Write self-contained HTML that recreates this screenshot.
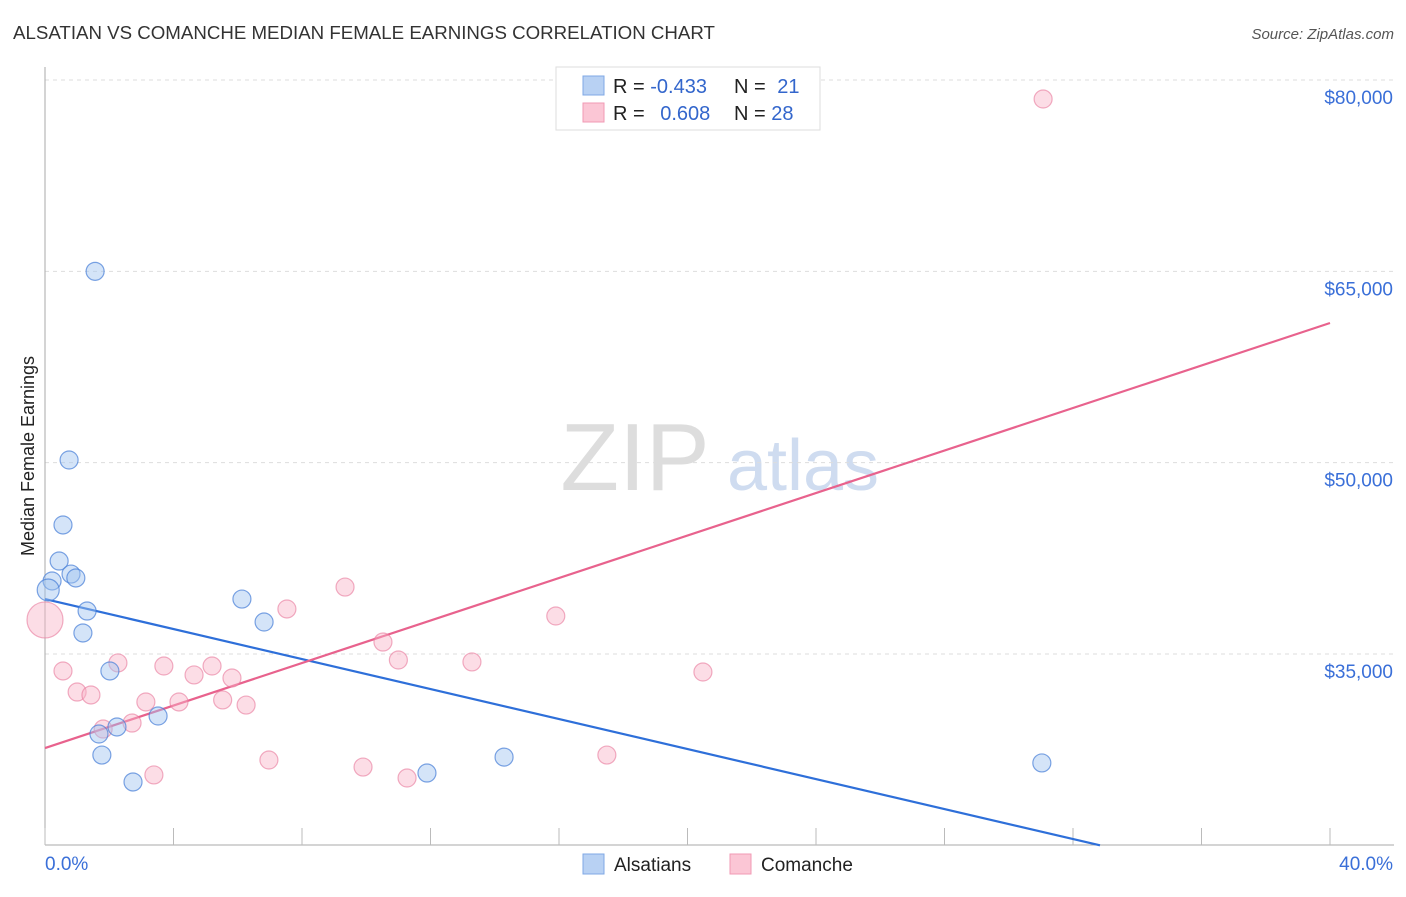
<!DOCTYPE html>
<html><head><meta charset="utf-8"><style>
body{margin:0;background:#fff;font-family:"Liberation Sans",sans-serif;}
svg text{font-family:"Liberation Sans",sans-serif;}
</style></head><body>
<svg id="c" width="1406" height="892" xmlns="http://www.w3.org/2000/svg">
<text x="13" y="39" font-size="18.7" fill="#333">ALSATIAN VS COMANCHE MEDIAN FEMALE EARNINGS CORRELATION CHART</text>
<text x="1394" y="39" font-size="15" fill="#555" font-style="italic" text-anchor="end">Source: ZipAtlas.com</text>
<text x="34" y="456" font-size="18" fill="#222" text-anchor="middle" transform="rotate(-90 34 456)">Median Female Earnings</text>
<g><text x="635" y="490" font-size="96" fill="#ddd" font-family="Liberation Serif" text-anchor="middle">ZIP</text><text x="803" y="490" font-size="72" fill="#cfdcf0" text-anchor="middle">atlas</text></g>
<g id="grid"></g><g id="axes"></g><g id="lines"></g><g id="pts"></g>
<g>
<rect x="556" y="67" width="264" height="63" fill="#fff" stroke="#ddd"/>
<rect x="583" y="76" width="21" height="19" fill="#b8d1f3" stroke="#7fa8e6"/>
<rect x="583" y="103" width="21" height="19" fill="#fbc6d5" stroke="#f09ab4"/>
<text x="613" y="93" font-size="20" fill="#222">R = <tspan fill="#3366cc">-0.433</tspan></text>
<text x="734" y="93" font-size="20" fill="#222">N = <tspan fill="#3366cc" dx="6">21</tspan></text>
<text x="613" y="120" font-size="20" fill="#222">R = <tspan fill="#3366cc" dx="10">0.608</tspan></text>
<text x="734" y="120" font-size="20" fill="#222">N = <tspan fill="#3366cc">28</tspan></text>
</g>
<g>
<rect x="583" y="854" width="21" height="20" fill="#b8d1f3" stroke="#7fa8e6"/>
<text x="614" y="871" font-size="19" fill="#222">Alsatians</text>
<rect x="730" y="854" width="21" height="20" fill="#fbc6d5" stroke="#f09ab4"/>
<text x="761" y="871" font-size="19" fill="#222">Comanche</text>
</g>
</svg>
<script>
const yTicks=[80000,65000,50000,35000];
const yTickLabels=["$80,000","$65,000","$50,000","$35,000"];
const xTickLabels=["0.0%","40.0%"];
const alsX=[1.56,0.75,0.56,0.44,0.81,0.96,0.22,0.1,1.31,1.18,2.02,3.52,2.24,1.68,1.77,2.74,6.13,6.82,11.89,14.29,31.03];
const alsY=[65000,50210,45115,42290,41270,40960,40725,40020,38370,36650,33670,30140,29280,28730,27080,24970,39310,37510,25670,26920,26460];
const comX=[31.07,0,0.56,1.0,1.43,2.27,3.7,4.64,5.2,5.82,3.14,4.17,5.53,6.26,1.81,2.71,3.39,6.97,7.53,9.34,10.52,11.0,9.9,11.27,13.29,15.9,17.49,20.48];
const comY=[78510,37670,33670,32020,31790,34300,34060,33360,34060,33120,31240,31240,31400,31000,29120,29590,25520,26690,38530,40250,35940,34530,26140,25280,34380,37980,27080,33590];
const alsTrend=[39310,-588];
const comTrend=[27630,833];
const NS="http://www.w3.org/2000/svg";
const xs=v=>45+v*32.125;
const ys=v=>80+(80000-v)*0.012756;
function mk(t,a,p){const e=document.createElementNS(NS,t);for(const k in a)e.setAttribute(k,a[k]);document.getElementById(p).appendChild(e);return e;}
yTicks.forEach((t,i)=>{
 const g=mk('line',{x1:45,x2:1394,y1:ys(t),y2:ys(t),stroke:'#ddd','stroke-dasharray':'4,4'},'grid');
 
 
 const l=mk('text',{x:1393,y:ys(t)+24,'font-size':19,fill:'#3a6fd8','text-anchor':'end'},'axes');
 l.textContent=yTickLabels[i];
 
 
});
const ax=mk('line',{x1:45,x2:45,y1:67,y2:845,stroke:'#aaa'},'axes');


const bx=mk('line',{x1:45,x2:1394,y1:845,y2:845,stroke:'#aaa'},'axes');


for(let i=0;i<=10;i++){const t=mk('line',{x1:xs(i*4),x2:xs(i*4),y1:828,y2:845,stroke:'#bbb'},'axes');
 
 }
[[0,'start',45],[40,'end',1393]].forEach((d,i)=>{const t=mk('text',{x:d[2],y:870,'font-size':19,fill:'#3a6fd8','text-anchor':d[1]},'axes');t.textContent=xTickLabels[i];
 
 });
function trend(tr,col,name){
 let x2=40,y2=tr[0]+tr[1]*40;
 if(y2<20000){x2=(20000-tr[0])/tr[1];y2=20000;}
 const l=mk('line',{x1:xs(0),y1:ys(tr[0]),x2:xs(x2),y2:ys(y2),stroke:col,'stroke-width':2.2},'lines');
 
 
}
trend(alsTrend,'#2e6fd9','alsatians-trend-line');
trend(comTrend,'#e8628d','comanche-trend-line');
comX.forEach((x,i)=>{const c=mk('circle',{cx:xs(x),cy:ys(comY[i]),r:i==1?18:9,fill:'rgba(248,180,200,0.45)',stroke:'rgba(232,120,155,0.6)','stroke-width':1.2},'pts');
 
 });
alsX.forEach((x,i)=>{const c=mk('circle',{cx:xs(x),cy:ys(alsY[i]),r:i==7?11:9,fill:'rgba(160,195,240,0.45)',stroke:'rgba(70,125,215,0.7)','stroke-width':1.2},'pts');
 
 });
</script>
</body></html>
